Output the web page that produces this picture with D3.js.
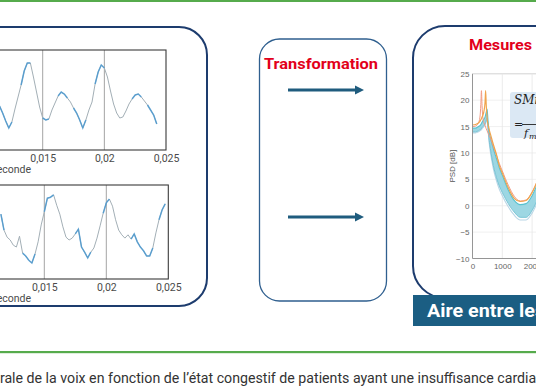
<!DOCTYPE html>
<html><head><meta charset="utf-8">
<script src="https://cdn.jsdelivr.net/npm/d3@7"></script>
<style>html,body{margin:0;padding:0;background:#fff;overflow:hidden}</style>
</head><body>
<svg id="c" width="536" height="386"></svg>
<script>
// ---------- DATA ----------
const timeStart = 0.0115, timeStep = 0.00025;
const waveTop = [-0.12,-0.26,-0.42,-0.56,-0.44,-0.18,0.06,0.30,0.58,0.74,0.74,0.46,0.16,-0.14,-0.36,-0.40,-0.38,-0.20,-0.06,0.08,0.16,0.12,0.04,-0.04,-0.16,-0.26,-0.40,-0.56,-0.40,-0.20,-0.04,0.32,0.56,0.70,0.64,0.46,0.18,-0.08,-0.26,-0.36,-0.34,-0.22,-0.08,0.02,0.10,0.12,0.06,-0.02,-0.10,-0.20,-0.30,-0.48];
const waveBottom = [0.38,0.04,-0.11,-0.17,-0.28,-0.32,-0.09,-0.45,-0.51,-0.60,-0.66,-0.47,-0.21,0.15,0.43,0.72,0.74,0.79,0.57,0.38,0.11,-0.11,-0.17,-0.13,-0.04,0.06,-0.32,-0.43,-0.55,-0.43,-0.34,-0.13,0.13,0.40,0.62,0.70,0.55,0.26,0.04,-0.06,-0.13,-0.06,-0.15,-0.04,-0.21,-0.32,-0.40,-0.51,-0.51,-0.34,-0.02,0.26,0.47,0.60];
const highlightTop = [[0,4],[7,10],[14,16],[19,22],[24,28],[31,34],[43,46],[48,51]];
const highlightBottom = [[0,1],[7,11],[14,17],[24,29],[33,35],[42,49],[51,53]];
const timeTicks = [0.015, 0.02, 0.025];
const timeTickLabels = ["0,015", "0,02", "0,025"];
const timeAxisLabel = "Seconde";

const psdFreq =   [0,100,200,250,280,300,320,350,380,420,440,460,490,520,560,600,700,800,900,1000,1200,1400,1600,1800,2000,2200];
const psdSalmon = [15.0,15.1,15.7,16.8,19.2,21.8,19.0,16.6,15.8,15.2,14.9,14.6,14.2,13.8,13.3,12.8,11.2,9.6,8.0,6.6,3.9,1.8,0.9,1.1,2.6,5.0];
const psdOrange = [15.3,15.4,15.7,16.0,16.3,16.5,16.8,17.2,17.8,19.5,21.8,19.2,16.6,15.4,14.4,13.6,11.6,9.8,7.6,6.2,3.4,1.4,0.8,1.0,2.5,5.0];
const psdCyan =   [14.7,14.7,15.0,15.2,15.4,15.6,15.8,16.1,16.4,16.8,17.2,17.7,18.3,16.2,14.0,12.9,10.8,9.0,7.2,5.8,3.0,1.0,0.2,0.4,1.9,4.5];
const psdLow =    [14.0,14.0,14.2,14.4,14.5,14.6,14.8,15.0,15.2,15.5,15.8,16.2,16.6,14.8,12.4,10.8,7.6,5.4,3.7,2.5,0.4,-1.2,-2.2,-2.2,-0.9,1.4];
const psdEdge =   [13.8,13.8,14.0,14.2,14.3,14.4,14.6,14.8,15.0,15.3,15.6,16.0,16.3,14.4,11.9,10.2,7.0,4.8,3.1,1.9,-0.2,-1.8,-2.7,-2.7,-1.4,0.9];
const psdYTicks = [25, 20, 15, 10, 5, 0, -5, -10];
const psdXTicks = [0, 1000, 2000];

const titleTransform = "Transformation";
const titleMesures = "Mesures";
const bannerText = "Aire entre les courbes";
const captionFull = "Analyse spectrale de la voix en fonction de l\u2019état congestif de patients ayant une insuffisance cardiaque";
const captionVisibleStart = "rale de la voix";

// ---------- DRAW ----------
const svg = d3.select("#c");
const red = "#e2001a", navy = "#1d3c6e";
const defs = svg.append("defs");

// green rules
svg.append("rect").attr("x",0).attr("y",0).attr("width",536).attr("height",2).attr("fill","#56ab4c");
svg.append("rect").attr("x",0).attr("y",351).attr("width",536).attr("height",2.2).attr("fill","#56ab4c");

// panels
svg.append("rect").attr("x",-30).attr("y",27).attr("width",237).attr("height",279).attr("rx",28)
  .attr("fill","#fff").attr("stroke",navy).attr("stroke-width",2);
svg.append("rect").attr("x",259.5).attr("y",39).attr("width",127).attr("height",262).attr("rx",20)
  .attr("fill","#fff").attr("stroke","#2f5f8f").attr("stroke-width",1.3);
svg.append("rect").attr("x",413).attr("y",26).attr("width",170).attr("height",272).attr("rx",32)
  .attr("fill","#fff").attr("stroke",navy).attr("stroke-width",2);

// ---------- waveforms ----------
function wave(data, hl, yTop, yBot, x015, x025, id) {
  const x = d3.scaleLinear().domain([0.015, 0.025]).range([x015, x025]);
  const y = d3.scaleLinear().domain([-1, 1]).range([yBot, yTop]);
  const x0 = x(0.01);
  defs.append("clipPath").attr("id", id).append("rect")
    .attr("x", x0).attr("y", yTop).attr("width", x025 - x0).attr("height", yBot - yTop);
  const g = svg.append("g");
  g.append("rect").attr("x", x0).attr("y", yTop).attr("width", x025 - x0).attr("height", yBot - yTop).attr("fill","#fff");
  g.selectAll("line.grid").data([0.015, 0.02]).join("line")
    .attr("x1", d => x(d)).attr("x2", d => x(d)).attr("y1", yTop).attr("y2", yBot)
    .attr("stroke", "#9a9a9a").attr("stroke-width", 0.9);
  const pts = data.map((v, i) => [timeStart + i * timeStep, v]);
  const line = d3.line().x(d => x(d[0])).y(d => y(d[1]));
  const lg = g.append("g").attr("clip-path", `url(#${id})`);
  lg.append("path").attr("d", line(pts)).attr("fill","none").attr("stroke","#a3afb6").attr("stroke-width",1);
  hl.forEach(([a, b]) => {
    lg.append("path").attr("d", line(pts.slice(a, b + 1))).attr("fill","none")
      .attr("stroke","#4596d0").attr("stroke-width",1.5).attr("opacity",0.8);
  });
  g.append("rect").attr("x", x0).attr("y", yTop).attr("width", x025 - x0).attr("height", yBot - yTop)
    .attr("fill","none").attr("stroke","#3a3a3a").attr("stroke-width",1.1);
  const ax = g.append("g").attr("transform", `translate(0,${yBot})`)
    .call(d3.axisBottom(x).tickValues(timeTicks).tickSize(0).tickPadding(0)
      .tickFormat((d, i) => timeTickLabels[i]));
  ax.select(".domain").remove();
  ax.selectAll("text").attr("font-family","Roboto, 'Liberation Sans', sans-serif").attr("font-size",10.5)
    .attr("fill","#4a4a4a").attr("dy", 0).attr("y", 12);
  g.append("text").attr("x", 31).attr("y", yBot + 23).attr("text-anchor","end")
    .attr("font-family","Roboto, 'Liberation Sans', sans-serif").attr("font-size",10.5).attr("fill","#4a4a4a")
    .text(timeAxisLabel);
}
wave(waveTop, highlightTop, 50, 150, 42.7, 166, "clipTop");
wave(waveBottom, highlightBottom, 185, 279, 44.3, 168.3, "clipBot");

// ---------- middle panel ----------
svg.append("text").attr("x", 264).attr("y", 69).attr("font-family","Roboto, 'Open Sans', sans-serif")
  .attr("font-weight","bold").attr("font-size",14.5).attr("fill",red)
  .attr("textLength",114).attr("lengthAdjust","spacingAndGlyphs").text(titleTransform);
[90, 217].forEach(yy => {
  svg.append("line").attr("x1",288).attr("x2",356).attr("y1",yy).attr("y2",yy)
    .attr("stroke","#1f5c7e").attr("stroke-width",3);
  svg.append("path").attr("d", d3.line()([[355,yy-4.5],[364,yy],[355,yy+4.5]]) + "Z").attr("fill","#1f5c7e");
});

// ---------- PSD chart ----------
svg.append("text").attr("x", 469).attr("y", 49.5).attr("font-family","Roboto, 'Open Sans', sans-serif")
  .attr("font-weight","bold").attr("font-size",15).attr("fill",red)
  .attr("textLength",63).attr("lengthAdjust","spacingAndGlyphs").text(titleMesures);

const px = d3.scaleLinear().domain([0, 1000]).range([472.5, 502.3]);
const py = d3.scaleLinear().domain([-10, 25]).range([258.5, 73.8]);
const pg = svg.append("g");
defs.append("clipPath").attr("id","clipPsd").append("rect")
  .attr("x", px(0)).attr("y", py(25)).attr("width", 100).attr("height", py(-10) - py(25));
pg.selectAll("line.hg").data(psdYTicks).join("line")
  .attr("x1", px(0)).attr("x2", 540).attr("y1", d => py(d)).attr("y2", d => py(d))
  .attr("stroke", d => d === 25 ? "#c8c8c8" : "#ececec").attr("stroke-width", 0.8);
pg.selectAll("line.vg").data(psdXTicks.slice(1)).join("line")
  .attr("x1", d => px(d)).attr("x2", d => px(d)).attr("y1", py(25)).attr("y2", py(-10))
  .attr("stroke", "#e6e6e6").attr("stroke-width", 0.8);
const cg = pg.append("g").attr("clip-path","url(#clipPsd)");
const band = d3.area().x((d, i) => px(psdFreq[i])).y0((d, i) => py(psdLow[i])).y1(d => py(d)).curve(d3.curveMonotoneX);
cg.append("path").attr("d", band(psdCyan)).attr("fill","#92d3e0").attr("opacity",0.9);
const pl = d3.line().x((d, i) => px(psdFreq[i])).y(d => py(d)).curve(d3.curveMonotoneX);
[[psdEdge,"#b9d6e6",1.1],[psdLow,"#6fc0d3",0.9],[psdCyan,"#58c2cf",1.1],[psdSalmon,"#f19a84",1],[psdOrange,"#f0a54e",1.2]]
  .forEach(([s, c, w]) => cg.append("path").attr("d", pl(s)).attr("fill","none").attr("stroke",c).attr("stroke-width",w));
pg.append("line").attr("x1",px(0)).attr("x2",px(0)).attr("y1",py(25)).attr("y2",py(-10)).attr("stroke","#8a8a8a").attr("stroke-width",0.9);
pg.append("line").attr("x1",px(0)).attr("x2",540).attr("y1",py(-10)).attr("y2",py(-10)).attr("stroke","#8a8a8a").attr("stroke-width",0.9);
const yax = pg.append("g").attr("transform",`translate(${px(0)},0)`)
  .call(d3.axisLeft(py).tickValues(psdYTicks).tickSize(0).tickPadding(3));
yax.select(".domain").remove();
yax.selectAll("text").attr("font-family","'Liberation Sans', Arial, sans-serif").attr("font-size",8).attr("fill","#666");
const xax = pg.append("g").attr("transform",`translate(0,${py(-10)})`)
  .call(d3.axisBottom(px).tickValues(psdXTicks).tickFormat(d3.format("d")).tickSize(0).tickPadding(5));
xax.select(".domain").remove();
xax.selectAll("text").attr("font-family","'Liberation Sans', Arial, sans-serif").attr("font-size",8).attr("fill","#666");
pg.append("text").attr("transform",`translate(455,${(py(25)+py(-10))/2}) rotate(-90)`).attr("text-anchor","middle")
  .attr("font-family","'Liberation Sans', Arial, sans-serif").attr("font-size",8).attr("fill","#555").text("PSD [dB]");

// formula box
svg.append("rect").attr("x",510).attr("y",92).attr("width",40).attr("height",46).attr("rx",3).attr("fill","#dbe8f4");
svg.append("text").attr("x",514).attr("y",104).attr("font-family","'DejaVu Serif', 'Liberation Serif', serif")
  .attr("font-style","italic").attr("font-size",12).attr("fill","#222").text("SMi");
svg.append("text").attr("x",514).attr("y",128).attr("font-family","'DejaVu Serif', 'Liberation Serif', serif")
  .attr("font-size",11).attr("fill","#222").text("=");
svg.append("line").attr("x1",522).attr("x2",540).attr("y1",124.5).attr("y2",124.5).attr("stroke","#222").attr("stroke-width",0.9);
svg.append("text").attr("x",524).attr("y",137).attr("font-family","'DejaVu Serif', 'Liberation Serif', serif")
  .attr("font-style","italic").attr("font-size",11).attr("fill","#222").text("f");
svg.append("text").attr("x",529).attr("y",139).attr("font-family","'DejaVu Serif', 'Liberation Serif', serif")
  .attr("font-style","italic").attr("font-size",8).attr("fill","#222").text("m");

// banner
svg.append("rect").attr("x",413).attr("y",295).attr("width",130).attr("height",31).attr("fill","#1b5e83");
const ban = svg.append("text").attr("y",317).attr("font-family","Roboto, 'Open Sans', sans-serif")
  .attr("font-weight","bold").attr("font-size",18).attr("fill","#fff").text(bannerText);
const bw = ban.node().getSubStringLength(0, "Aire entre le".length);
const bs = 108 / bw;
ban.attr("transform", `translate(427,0) scale(${bs},1)`);

// caption
const cap = svg.append("text").attr("y",383).attr("font-family","Roboto, 'Liberation Sans', sans-serif")
  .attr("font-size",14).attr("fill","#333").text(captionFull);
const node = cap.node();
const i0 = captionFull.indexOf(captionVisibleStart);
const iEnd = captionFull.indexOf("cardiaque") + 6;
const wPre = node.getSubStringLength(0, i0);
const wVis = node.getSubStringLength(i0, iEnd - i0);
const s = 537 / wVis;
cap.attr("transform", `translate(${-wPre * s},0) scale(${s},1)`);
</script>
</body></html>
